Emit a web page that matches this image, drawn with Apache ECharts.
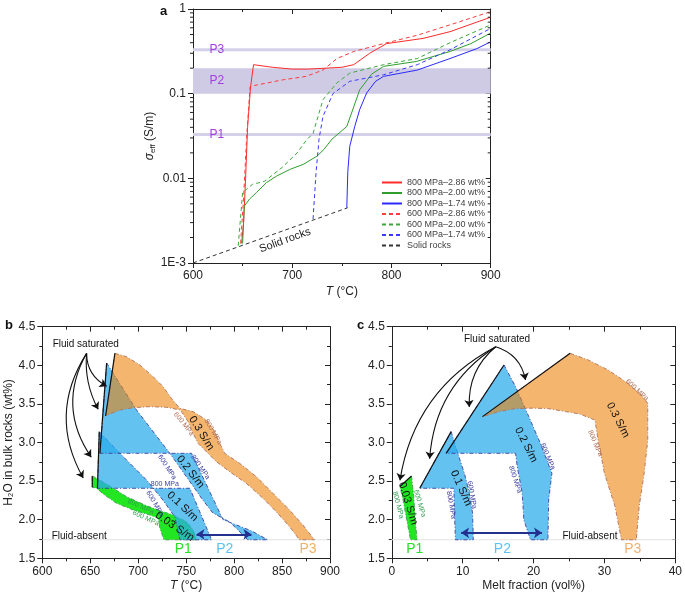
<!DOCTYPE html>
<html>
<head>
<meta charset="utf-8">
<script src="https://cdn.jsdelivr.net/npm/echarts@6/dist/echarts.min.js"></script>
<style>
html,body{margin:0;padding:0;background:#fff;}
#chart{width:685px;height:594px;}
</style>
</head>
<body>
<div id="chart"></div>
<script>
const FONT = '"Liberation Sans", Arial, Helvetica, sans-serif';

/* ================= panel a : sigma_eff vs T ================= */
const aMinorLog = [0.002,0.003,0.004,0.005,0.006,0.007,0.008,0.009,
                   0.02,0.03,0.04,0.05,0.06,0.07,0.08,0.09,
                   0.2,0.3,0.4,0.5,0.6,0.7,0.8,0.9];
const aLogLabels = {'-3':'1E-3','-2':'0.01','-1':'0.1','0':'1'};
const seriesNamesA = ['800 MPa\u20132.86 wt%','800 MPa\u20132.00 wt%','800 MPa\u20131.74 wt%',
                      '600 MPa\u20132.86 wt%','600 MPa\u20132.00 wt%','600 MPa\u20131.74 wt%','Solid rocks'];
const red800 = [[649,0.0017],[651,0.003],[653,0.01],[655,0.04],[658,0.12],[661,0.22],[680,0.205],[700,0.195],
                [715,0.195],[734,0.2],[750,0.205],[762,0.22],[778,0.30],[795,0.39],[832,0.45],[859,0.54],[900,0.80]];
const green800 = [[650,0.0017],[651.7,0.0047],[657,0.0057],[664,0.0068],[674,0.0089],[684,0.0106],[698,0.0128],
                  [711,0.0146],[725,0.0183],[732,0.022],[740,0.029],[755,0.041],[762,0.07],[768,0.111],[780,0.17],
                  [792,0.21],[825,0.24],[859,0.315],[880,0.39],[900,0.52]];
const blue800 = [[755,0.0045],[756,0.012],[758,0.024],[763,0.041],[768,0.065],[775,0.102],[784,0.14],[792,0.16],
                 [826,0.19],[859,0.26],[886,0.34],[900,0.41]];
const red600 = [[648,0.0017],[651,0.006],[654,0.03],[657.5,0.12],[662,0.125],[691,0.146],[714,0.16],[731,0.19],
                [745,0.26],[762,0.315],[792,0.39],[826,0.49],[859,0.65],[900,0.93]];
const green600 = [[645.6,0.0016],[650,0.0068],[660,0.0085],[672,0.0092],[690,0.0135],[705,0.02],[714,0.028],
                  [721,0.034],[731,0.085],[745,0.134],[758,0.175],[792,0.22],[826,0.26],[859,0.40],[900,0.65]];
const blue600 = [[721,0.0033],[724,0.0117],[727,0.029],[731,0.054],[741,0.1],[758,0.14],[792,0.167],[826,0.22],
                 [859,0.33],[900,0.59]];
const solidRocks = [[600,0.001],[756,0.0045]];
const p2Band = [0.1, 0.2];
const p1Level = 0.033;
const p3Level = 0.33;

/* ================= panel b : H2O vs T ================= */
const bP3 = [[675.7,4.155],[687.8,4.112],[701.7,4.004],[715.6,3.853],[726.0,3.723],[734.6,3.572],[743.3,3.443],
  [757.2,3.400],[771.1,3.292],[779.8,3.141],[785.0,2.989],[790.2,2.860],[805.8,2.730],[823.1,2.558],[840.5,2.342],
  [857.8,2.126],[871.7,1.932],[883.9,1.74],[868.2,1.74],[857.8,1.910],[843.9,2.104],[830.1,2.277],[812.7,2.471],
  [795.4,2.622],[781.5,2.752],[771.1,2.881],[762.4,2.989],[757.2,3.119],[752.0,3.270],[744.0,3.421],[729.4,3.456],
  [712.1,3.464],[694.8,3.451],[680.9,3.421],[670.5,3.369],[666.0,3.343]];
const bP2high = [[667.1,4.03],[698.3,3.42],[733.0,2.86],[767.4,2.255],[777.8,2.087],[795.5,1.970],[814.3,1.74],
  [835.1,1.74],[818.4,1.854],[788.5,2.0],[755.6,2.86],[660.1,2.86]];
const bP2low = [[659.4,3.14],[680.9,2.86],[708.75,2.514],[725.7,2.255],[738.2,2.035],[743.4,1.74],[776.5,1.74],
  [753.9,2.407],[657.5,2.407]];
const bP1 = [[652.1,2.566],[667.1,2.462],[687.9,2.298],[708.75,2.181],[722.6,2.117],[736.5,2.061],[750.4,1.974],
  [757.3,1.867],[760.8,1.74],[726.8,1.74],[722.6,1.892],[720.8,2.018],[712.2,2.061],[694.8,2.126],[677.5,2.212],
  [663.5,2.333],[656.7,2.407],[652.1,2.42]];
const bSaturated = [
  [[675.7,4.155],[666.0,3.343]],
  [[667.1,4.03],[660.1,2.86]],
  [[659.4,3.14],[657.5,2.407]],
  [[652.1,2.566],[652.1,2.42]]
];
const bArrowStart = [646.2,4.155];
const bArrowEnds = [[667.1,3.73],[658.3,3.43],[651.0,2.81],[642.7,2.54]];
const bP2Arrow = [[760.8,1.81],[818.1,1.81]];
const fluidAbsentLevel = 1.74;

/* ================= panel c : H2O vs melt fraction ================= */
const cP3 = [[25.16,4.155],[27.72,4.069],[30.52,3.939],[33.31,3.767],[35.18,3.616],[36.11,3.508],[36.11,3.03],
  [35.6,2.6],[34.9,2.17],[34.5,1.74],[32.4,1.74],[31.5,2.17],[30.0,2.6],[29.1,3.03],[28.66,3.29],[26.5,3.37],
  [24.5,3.40],[22.0,3.44],[19.8,3.445],[17.5,3.44],[15.13,3.40],[12.80,3.335]];
const cP2high = [[15.83,4.004],[17.46,3.724],[19.33,3.335],[20.96,2.989],[22.59,2.601],[22.13,2.255],[22.03,1.74],
  [19.56,1.74],[18.63,1.996],[18.40,2.342],[17.70,2.687],[17.46,2.86],[7.67,2.86]];
const cP2low = [[8.37,3.141],[9.30,2.86],[10.24,2.601],[10.94,2.342],[11.40,2.083],[11.50,1.74],[8.98,1.74],
  [8.84,2.083],[8.75,2.407],[3.94,2.407]];
const cP1 = [[2.78,2.566],[3.1,2.3],[3.3,2.0],[3.57,1.74],[2.64,1.74],[2.1,2.0],[1.6,2.25],[1.15,2.43]];
const cSaturated = [
  [[25.16,4.155],[12.80,3.335]],
  [[15.83,4.004],[7.67,2.86]],
  [[8.37,3.141],[3.94,2.407]],
  [[1.15,2.43],[2.78,2.566]]
];
const cArrowStart = [14.67,4.24];
const cArrowEnds = [[18.86,3.81],[10.94,3.46],[5.34,2.79],[1.15,2.51]];
const cP2Arrow = [[9.78,1.83],[21.19,1.83]];

/* ================= annotation texts: [x, y, text, clockwise deg] ================= */
const aPLabels = [[624,0.33,'P3'],[624,0.142,'P2'],[624,0.033,'P1']];
const aSolidLabel = [[692.7,0.00185,'Solid rocks',-20]];
const bBigLabels = [[765.9,3.12,'0.3 S/m',58],[754.4,2.62,'0.2 S/m',52],[746.1,2.17,'0.1 S/m',43],[738.1,1.91,'0.03 S/m',34]];
const bBrownMPa = [[747.5,3.24,'600 MPa',52],[778,3.14,'800 MPa',60]];
const bBlueMPa = [[730.1,2.68,'600 MPa',57],[764.8,2.68,'800 MPa',55],[727.7,2.46,'800 MPa',0],[717.3,2.21,'600 MPa',60]];
const bGreenMPa = [[702.7,2.17,'800 MPa',25],[707.9,2.02,'600 MPa',25]];
const bPLabels = [[747,1.62,'P1','#27e027'],[790.3,1.62,'P2','#5cc3f0'],[877,1.62,'P3','#f4b06a']];
const bNotes = [[638.5,1.79,'Fluid-absent',0],[645.3,4.27,'Fluid saturated',0]];
const cBigLabels = [[31.9,3.29,'0.3 S/m',63],[18.95,2.97,'0.2 S/m',63],[9.77,2.41,'0.1 S/m',66],[2.31,2.21,'0.03 S/m',73]];
const cBrownMPa = [[34.6,3.68,'600 MPa',43],[28.7,2.99,'800 MPa',67]];
const cBlueMPa = [[22.0,2.82,'600 MPa',67],[17.4,2.52,'800 MPa',72],[11.3,2.32,'600 MPa',80],[8.37,2.19,'800 MPa',80]];
const cGreenMPa = [[3.94,2.21,'600 MPa',74],[0.91,2.19,'800 MPa',76]];
const cPLabels = [[3.24,1.62,'P1','#27e027'],[15.6,1.62,'P2','#5cc3f0'],[34.0,1.62,'P3','#f4b06a']];
const cNotes = [[27.96,1.79,'Fluid-absent',0],[14.85,4.34,'Fluid saturated',0]];

/* ================= helpers ================= */
const INK = '#222';
function textSeries(items, xi, yi, color, size, extra) {
  extra = extra || {};
  return {
    type: 'custom', xAxisIndex: xi, yAxisIndex: yi, silent: true, clip: false, z: 30,
    data: items.map(it => [it[0], it[1]]),
    renderItem: function (params, api) {
      const it = items[params.dataIndex];
      const p = api.coord([it[0], it[1]]);
      return {
        type: 'text', x: p[0], y: p[1], rotation: -((it[3] && typeof it[3] === 'number') ? it[3] : 0) * Math.PI / 180,
        style: {
          text: it[2], fill: (typeof it[3] === 'string') ? it[3] : color,
          fontSize: size, fontFamily: FONT, fontWeight: extra.weight || 'normal',
          align: 'center', verticalAlign: 'middle'
        }
      };
    }
  };
}
function polySeries(points, xi, yi, fill, stroke, z) {
  return {
    type: 'custom', xAxisIndex: xi, yAxisIndex: yi, silent: true, clip: true, z: z,
    data: [points[0]],
    renderItem: function (params, api) {
      const pts = points.map(p => api.coord(p));
      return {
        type: 'polygon', shape: { points: pts },
        style: { fill: fill, stroke: stroke, lineWidth: 0.9, lineDash: [4, 2, 1, 2] }
      };
    }
  };
}
function segSeries(segs, xi, yi, color, width, z) {
  return segs.map(s => ({
    type: 'line', xAxisIndex: xi, yAxisIndex: yi, data: s, symbol: 'none', silent: true, z: z,
    lineStyle: { color: color, width: width }, animation: false
  }));
}
function arrowSeries(start, ends, curv, xi, yi) {
  return {
    type: 'lines', coordinateSystem: 'cartesian2d', xAxisIndex: xi, yAxisIndex: yi, silent: true, z: 25,
    symbol: ['none', 'arrow'], symbolSize: 7,
    data: ends.map((e, i) => ({ coords: [start, e], lineStyle: { curveness: curv[i] } })),
    lineStyle: { color: '#111', width: 1.1, opacity: 1 }
  };
}
function dblArrow(seg, xi, yi) {
  return {
    type: 'lines', coordinateSystem: 'cartesian2d', xAxisIndex: xi, yAxisIndex: yi, silent: true, z: 25,
    symbol: ['arrow', 'arrow'], symbolSize: 8,
    data: [{ coords: seg }],
    lineStyle: { color: '#23308f', width: 2, opacity: 1 }
  };
}
function xAx(gi, min, max, interval, pos, name, gap) {
  const top = pos === 'top';
  return {
    gridIndex: gi, type: 'value', min: min, max: max, interval: interval, position: pos,
    axisLine: { show: true, onZero: false, lineStyle: { color: INK, width: 1 } },
    axisTick: { show: true, inside: top, length: 5, lineStyle: { color: INK } },
    minorTick: { show: true, splitNumber: 2, length: 3, lineStyle: { color: INK } },
    axisLabel: { show: !top, fontSize: 12, color: INK, fontFamily: FONT, margin: 7 },
    splitLine: { show: false }, minorSplitLine: { show: false },
    name: top ? '' : name, nameLocation: 'middle', nameGap: gap,
    nameTextStyle: { fontSize: 12, color: INK, fontFamily: FONT,
      rich: { i: { fontStyle: 'italic', fontSize: 12, color: INK, fontFamily: FONT } } }
  };
}
function yAxVal(gi, pos, name) {
  const right = pos === 'right';
  return {
    gridIndex: gi, type: 'value', min: 1.5, max: 4.5, interval: 0.5, position: pos,
    axisLine: { show: true, onZero: false, lineStyle: { color: INK, width: 1 } },
    axisTick: { show: true, inside: right, length: 5, lineStyle: { color: INK } },
    minorTick: { show: true, splitNumber: 2, length: 3, lineStyle: { color: INK } },
    axisLabel: { show: !right, fontSize: 12, color: INK, fontFamily: FONT, margin: 7,
      formatter: v => v.toFixed(1) },
    splitLine: { show: false }, minorSplitLine: { show: false },
    name: right ? '' : name, nameLocation: 'middle', nameGap: 23, nameRotate: 90,
    nameTextStyle: { fontSize: 12, color: INK, fontFamily: FONT }
  };
}
function yAxLog(pos) {
  const right = pos === 'right';
  return {
    gridIndex: 0, type: 'log', logBase: 10, min: 0.001, max: 1, position: pos,
    axisLine: { show: true, onZero: false, lineStyle: { color: INK, width: 1 } },
    axisTick: { show: true, inside: right, length: 5, lineStyle: { color: INK } },
    axisLabel: { show: !right, fontSize: 12, color: INK, fontFamily: FONT, margin: 7,
      formatter: v => aLogLabels[String(Math.round(Math.log10(v)))] || '' },
    splitLine: { show: false },
    name: right ? '' : '{i|\u03c3}{s|eff} (S/m)', nameLocation: 'middle', nameGap: 34, nameRotate: 90,
    nameTextStyle: { fontSize: 12, color: INK, fontFamily: FONT,
      rich: { i: { fontStyle: 'italic', fontSize: 12, color: INK, fontFamily: FONT },
              s: { fontSize: 8, color: INK, fontFamily: FONT, padding: [6, 0, 0, 0] } } }
  };
}

const lineA = (name, data, color, dashed) => ({
  name: name, type: 'line', xAxisIndex: 0, yAxisIndex: 0, data: data, symbol: 'none', z: 5,
  lineStyle: { color: color, width: 1, type: dashed ? [4, 3] : 'solid' }, itemStyle: { color: color }
});

const series = [
  /* panel a bands */
  {
    type: 'custom', xAxisIndex: 0, yAxisIndex: 0, silent: true, z: 1, data: [[600, p2Band[0]]],
    renderItem: function (params, api) {
      const a = api.coord([600, p2Band[1]]), b = api.coord([900, p2Band[0]]);
      return { type: 'rect', shape: { x: a[0], y: a[1], width: b[0] - a[0], height: b[1] - a[1] },
               style: { fill: '#d0cbe4' } };
    }
  },
  { type: 'line', xAxisIndex: 0, yAxisIndex: 0, data: [[600, p1Level], [900, p1Level]], symbol: 'none', silent: true, z: 1,
    lineStyle: { color: '#d4d0e8', width: 3 } },
  { type: 'line', xAxisIndex: 0, yAxisIndex: 0, data: [[600, p3Level], [900, p3Level]], symbol: 'none', silent: true, z: 1,
    lineStyle: { color: '#d4d0e8', width: 3 } },
  /* minor log ticks on both sides */
  {
    type: 'custom', xAxisIndex: 0, yAxisIndex: 0, silent: true, clip: false, z: 6,
    data: aMinorLog.map(v => [600, v]),
    renderItem: function (params, api) {
      const l = api.coord([600, api.value(1)]), r = api.coord([900, api.value(1)]);
      return { type: 'group', children: [
        { type: 'line', shape: { x1: l[0] - 3, y1: l[1], x2: l[0], y2: l[1] }, style: { stroke: INK, lineWidth: 1 } },
        { type: 'line', shape: { x1: r[0] - 3, y1: r[1], x2: r[0], y2: r[1] }, style: { stroke: INK, lineWidth: 1 } }
      ] };
    }
  },
  lineA(seriesNamesA[0], red800, '#ff2b2b', false),
  lineA(seriesNamesA[1], green800, '#2f9e2f', false),
  lineA(seriesNamesA[2], blue800, '#2a2aff', false),
  lineA(seriesNamesA[3], red600, '#ff3c3c', true),
  lineA(seriesNamesA[4], green600, '#3aa83a', true),
  lineA(seriesNamesA[5], blue600, '#3a3aff', true),
  lineA(seriesNamesA[6], solidRocks, '#333333', true),
  textSeries(aPLabels, 0, 0, '#a23de0', 12),
  textSeries(aSolidLabel, 0, 0, '#222', 11),

  /* panel b */
  polySeries(bP1, 2, 2, '#22e622', '#3a9c4a', 10),
  polySeries(bP2low, 2, 2, 'rgba(40,170,235,0.72)', '#3c40a0', 11),
  polySeries(bP2high, 2, 2, 'rgba(40,170,235,0.72)', '#3c40a0', 12),
  polySeries(bP3, 2, 2, 'rgba(236,129,8,0.59)', '#b0705a', 13),
  ...segSeries(bSaturated, 2, 2, '#111', 1.2, 14),
  ...segSeries([[[600, fluidAbsentLevel], [900, fluidAbsentLevel]]], 2, 2, '#e2e2e2', 1.2, 3),
  arrowSeries(bArrowStart, bArrowEnds, [-0.3, -0.15, -0.31, -0.3], 2, 2),
  dblArrow(bP2Arrow, 2, 2),
  textSeries(bBigLabels, 2, 2, '#111', 11),
  textSeries(bBrownMPa, 2, 2, '#b0705a', 7),
  textSeries(bBlueMPa, 2, 2, '#3c40a0', 7),
  textSeries(bGreenMPa, 2, 2, '#2f9e4f', 7),
  textSeries(bPLabels, 2, 2, '#222', 14),
  textSeries(bNotes, 2, 2, '#111', 10),

  /* panel c */
  polySeries(cP1, 4, 4, '#22e622', '#3a9c4a', 10),
  polySeries(cP2low, 4, 4, 'rgba(40,170,235,0.72)', '#3c40a0', 11),
  polySeries(cP2high, 4, 4, 'rgba(40,170,235,0.72)', '#3c40a0', 12),
  polySeries(cP3, 4, 4, 'rgba(236,129,8,0.59)', '#b0705a', 13),
  ...segSeries(cSaturated, 4, 4, '#111', 1.2, 14),
  ...segSeries([[[0, fluidAbsentLevel], [40, fluidAbsentLevel]]], 4, 4, '#e2e2e2', 1.2, 3),
  arrowSeries(cArrowStart, cArrowEnds, [0.3, -0.25, -0.25, -0.25], 4, 4),
  dblArrow(cP2Arrow, 4, 4),
  textSeries(cBigLabels, 4, 4, '#111', 11),
  textSeries(cBrownMPa, 4, 4, '#b0705a', 7),
  textSeries(cBlueMPa, 4, 4, '#3c40a0', 7),
  textSeries(cGreenMPa, 4, 4, '#2f9e4f', 7),
  textSeries(cPLabels, 4, 4, '#222', 14),
  textSeries(cNotes, 4, 4, '#111', 10)
];

const option = {
  animation: false,
  backgroundColor: '#fff',
  title: [
    { text: 'a', left: 155, top: 0, textStyle: { fontSize: 13, fontWeight: 'bold', color: '#111', fontFamily: FONT } },
    { text: 'b', left: 0, top: 314, textStyle: { fontSize: 13, fontWeight: 'bold', color: '#111', fontFamily: FONT } },
    { text: 'c', left: 352, top: 314, textStyle: { fontSize: 13, fontWeight: 'bold', color: '#111', fontFamily: FONT } }
  ],
  legend: {
    data: seriesNamesA, orient: 'vertical', left: 381, top: 178, itemWidth: 20, itemHeight: 10, itemGap: 1.5,
    textStyle: { fontSize: 9, color: '#444', fontFamily: FONT }, selectedMode: false, padding: 0,
    itemStyle: { opacity: 0 }
  },
  grid: [
    { left: 193, top: 9, width: 297.7, height: 254 },
    { left: 42.3, top: 326.7, width: 287.7, height: 231.6 },
    { left: 391.8, top: 326.7, width: 285.7, height: 231.6 }
  ],
  xAxis: [
    xAx(0, 600, 900, 100, 'bottom', '{i|T} (\u00b0C)', 23),
    xAx(0, 600, 900, 100, 'top', '', 0),
    xAx(1, 600, 900, 50, 'bottom', '{i|T} (\u00b0C)', 21),
    xAx(1, 600, 900, 50, 'top', '', 0),
    xAx(2, 0, 40, 10, 'bottom', 'Melt fraction (vol%)', 21),
    xAx(2, 0, 40, 10, 'top', '', 0)
  ],
  yAxis: [
    yAxLog('left'),
    yAxLog('right'),
    yAxVal(1, 'left', 'H\u2082O in bulk rocks (wt%)'),
    yAxVal(1, 'right', ''),
    yAxVal(2, 'left', ''),
    yAxVal(2, 'right', '')
  ],
  series: series
};
const chart = echarts.init(document.getElementById('chart'), null, { renderer: 'canvas' });
chart.setOption(option);
</script>
</body>
</html>
